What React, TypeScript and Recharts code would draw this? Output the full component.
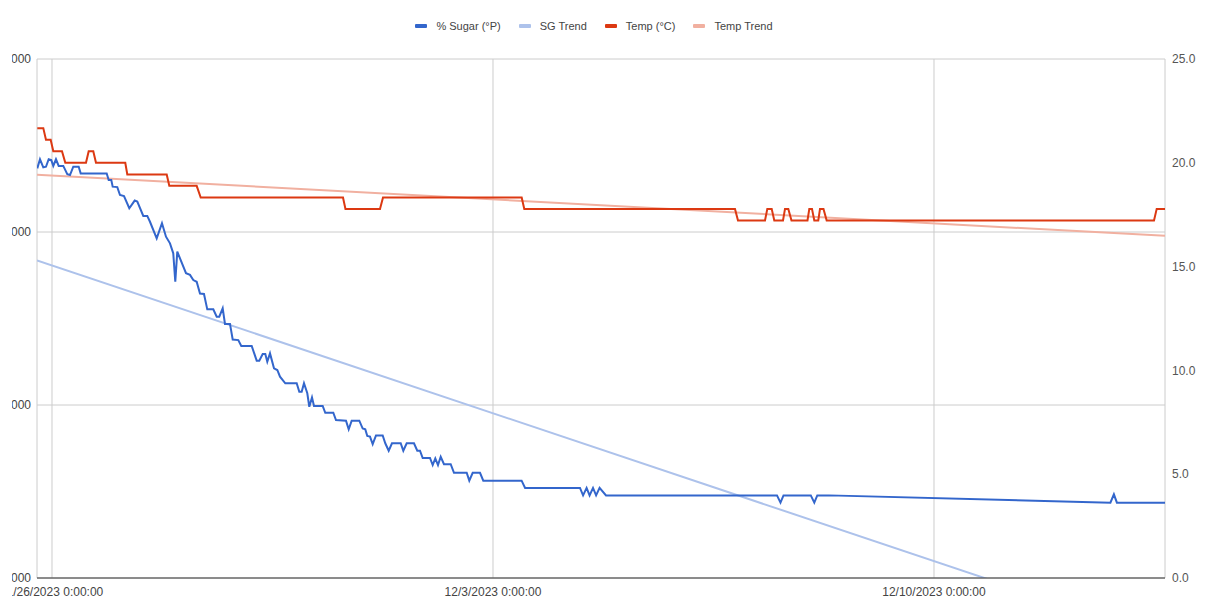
import React from "react";
import {
  LineChart,
  Line,
  XAxis,
  YAxis,
  CartesianGrid,
  Legend,
} from "recharts";

// ---- data (x = hours since 11/26/2023 0:00) ----
const X_MIN = -5.71;
const X_MAX = 424;
const X_TICKS = [0, 168, 336];
const X_TICK_LABELS = ["11/26/2023 0:00:00", "12/3/2023 0:00:00", "12/10/2023 0:00:00"];

const LEFT_TICKS = [0.9, 1.0, 1.1, 1.2];
const RIGHT_TICKS = [0, 5, 10, 15, 20, 25];

const sugarHours = [
  -5.6, -4.57, -3.31, -2.29, -1.26, -0.27, 0.5, 1.52, 2.55, 4.3, 5.83, 6.86, 8.11, 10.17, 10.93,
  20.84, 21.6, 22.59, 23.12, 24.88, 25.9, 27.43, 29.45, 31.5, 32.5, 34.78, 36.3, 37.33, 39.89,
  41.9, 43.43, 44.95, 46.2, 46.97, 47.73, 51.05, 52.57, 53.83, 55.12, 56.38, 57.9, 59.16, 61.45,
  62.74, 63.73, 65.03, 65.9, 67.81, 68.84, 70.97, 72.11, 76.08, 77.98, 78.97, 80.27, 81.26, 82.02,
  83.05, 84.57, 85.83, 86.86, 88.88, 93.22, 94.21, 95.12, 96.0, 97.26, 98.02, 99.05, 99.81,
  103.12, 104.11, 107.16, 108.19, 112.0, 113.03, 114.17, 117.07, 118.36, 119.35, 120.11, 121.14,
  122.17, 123.43, 125.98, 126.97, 128.27, 129.52, 132.84, 133.83, 135.12, 137.9, 139.16, 140.19,
  141.22, 144.0, 145.03, 146.02, 147.05, 148.08, 149.33, 151.89, 153.14, 157.98, 158.97, 160.27,
  163.05, 164.3, 178.9, 180.23, 201.14, 202.32, 203.66, 204.8, 206.1, 207.28, 208.61, 211.05,
  276.19, 277.52, 278.67, 289.07, 290.4, 291.54, 296.0, 403.2, 404.53, 405.68, 424.0,
];
const sugarPlato = [
  19.73, 20.17, 19.78, 19.81, 20.17, 20.13, 19.85, 20.17, 19.85, 19.85, 19.45, 19.41, 19.81, 19.81, 19.49,
  19.49, 19.17, 19.17, 18.85, 18.83, 18.45, 18.4, 17.81, 18.18, 18.13, 17.44, 17.44, 17.16, 16.36,
  17.09, 16.44, 16.12, 15.64, 14.27, 15.72, 14.68, 14.6, 14.35, 14.27, 13.7, 13.68, 12.94, 12.94,
  12.59, 12.59, 12.99, 12.24, 12.24, 11.49, 11.46, 11.18, 11.18, 10.47, 10.47, 10.79, 10.79, 10.42,
  10.82, 10.1, 10.02, 9.7, 9.38, 9.38, 8.97, 8.97, 9.38, 8.9, 8.25, 8.7, 8.29,
  8.29, 7.96, 7.96, 7.61, 7.58, 7.16, 7.58, 7.58, 7.2, 7.16, 6.84, 6.81,
  6.45, 6.87, 6.87, 6.49, 6.13, 6.49, 6.49, 6.13, 6.49, 6.49, 6.13, 6.13,
  5.78, 5.78, 5.44, 5.76, 5.44, 5.84, 5.48, 5.48, 5.07, 5.07, 4.69, 5.07,
  5.07, 4.69, 4.69, 4.34, 4.34, 3.98, 4.34, 3.98, 4.34, 3.98, 4.34, 3.98,
  3.98, 3.63, 3.98, 3.98, 3.63, 3.98, 3.98, 3.63, 4.03, 3.63, 3.63,
];

const tempHours = [
  -5.6, -3.31, -2.29, -0.5, 0.5, 3.81, 5.07, 12.95, 13.98, 15.73, 16.76, 27.92, 28.69, 43.7, 44.69,
  55.12, 56.65, 110.86, 111.8, 124.95, 126.1, 178.93, 179.92, 260.19, 261.33, 271.62, 272.5,
  274.17, 275.16, 278.48, 279.24, 280.5, 281.71, 287.81, 288.5, 289.52, 290.4, 291.92, 292.57,
  293.9, 295.12, 419.81, 420.84, 424.0,
];
const tempC = [
  21.67, 21.67, 21.11, 21.11, 20.56, 20.56, 20.0, 20.0, 20.56, 20.56, 20.0, 20.0, 19.44, 19.44, 18.89,
  18.89, 18.33, 18.33, 17.78, 17.78, 18.33, 18.33, 17.78, 17.78, 17.22, 17.22, 17.78,
  17.78, 17.22, 17.22, 17.78, 17.78, 17.22, 17.22, 17.78, 17.78, 17.22, 17.22, 17.78,
  17.78, 17.22, 17.22, 17.78, 17.78,
];

const sgTrendHours = [-5.71, 424];
const sgTrendValues = [1.0836, 0.865];
const tempTrendHours = [-5.71, 424];
const tempTrendValues = [19.43, 16.48];

const SERIES_NAMES = ["% Sugar (°P)", "SG Trend", "Temp (°C)", "Temp Trend"];
const SERIES_COLORS = ["#3366cc", "#adc2eb", "#dc3912", "#f1b0a0"];

const zip = (xs: number[], ys: number[]) => xs.map((h, i) => ({ h, v: ys[i] }));
const sugarData = zip(sugarHours, sugarPlato);
const tempData = zip(tempHours, tempC);
const sgTrendData = zip(sgTrendHours, sgTrendValues);
const tempTrendData = zip(tempTrendHours, tempTrendValues);

const FONT = "Arial, 'Liberation Sans', sans-serif";
const CHART_W = 1246;
const CHART_H = 604;

const LegendContent = () => (
  <div
    style={{
      height: 49,
      boxSizing: "border-box",
      paddingTop: 8,
      paddingRight: 12,
      display: "flex",
      justifyContent: "center",
      alignItems: "flex-start",
      fontFamily: FONT,
      fontSize: 11,
      color: "#444",
      lineHeight: "16px",
    }}
  >
    {SERIES_NAMES.map((name, i) => (
      <div
        key={name}
        style={{ display: "flex", alignItems: "center", marginLeft: i === 0 ? 0 : 18 }}
      >
        <span
          style={{
            display: "inline-block",
            width: 12,
            height: 4,
            background: SERIES_COLORS[i],
            marginRight: 9,
            borderRadius: 1,
          }}
        />
        <span style={{ whiteSpace: "nowrap" }}>{name}</span>
      </div>
    ))}
  </div>
);

export default function App() {
  return (
    <div
      style={{
        position: "absolute",
        left: 12,
        top: 0,
        width: 1211,
        height: 604,
        overflow: "hidden",
        background: "#fff",
      }}
    >
      <div style={{ position: "absolute", left: -35, top: 0 }}>
        <LineChart
          width={CHART_W}
          height={CHART_H}
          margin={{ top: 10, right: 0, bottom: 0, left: 0 }}
        >
          <CartesianGrid stroke="#cccccc" yAxisId="left" />
          <XAxis
            dataKey="h"
            type="number"
            domain={[X_MIN, X_MAX]}
            ticks={X_TICKS}
            interval={0}
            allowDataOverflow
            tickFormatter={(v: number) => X_TICK_LABELS[X_TICKS.indexOf(v)] ?? ""}
            axisLine={{ stroke: "#333" }}
            tickLine={false}
            tickSize={0}
            tickMargin={9}
            height={26}
            tick={{ fill: "#444", fontSize: 12, fontFamily: FONT }}
          />
          <YAxis
            yAxisId="left"
            orientation="left"
            domain={[0.9, 1.2]}
            ticks={LEFT_TICKS}
            interval={0}
            allowDataOverflow
            tickFormatter={(v: number) => v.toFixed(4)}
            width={60}
            axisLine={false}
            tickLine={false}
            tickSize={0}
            tickMargin={6}
            tick={{ fill: "#444", fontSize: 12, fontFamily: FONT }}
          />
          <YAxis
            yAxisId="right"
            orientation="right"
            domain={[0, 25]}
            ticks={RIGHT_TICKS}
            interval={0}
            allowDataOverflow
            tickFormatter={(v: number) => v.toFixed(1)}
            width={58}
            axisLine={false}
            tickLine={false}
            tickSize={0}
            tickMargin={7}
            tick={{ fill: "#555", fontSize: 12, fontFamily: FONT }}
          />
          <Legend
            verticalAlign="top"
            align="center"
            wrapperStyle={{ top: 10, left: 0, width: CHART_W, height: 49 }}
            content={() => <LegendContent />}
          />
          <Line
            yAxisId="left"
            data={sgTrendData}
            dataKey="v"
            name={SERIES_NAMES[1]}
            type="linear"
            stroke={SERIES_COLORS[1]}
            strokeWidth={2}
            dot={false}
            activeDot={false}
            isAnimationActive={false}
          />
          <Line
            yAxisId="right"
            data={tempTrendData}
            dataKey="v"
            name={SERIES_NAMES[3]}
            type="linear"
            stroke={SERIES_COLORS[3]}
            strokeWidth={2}
            dot={false}
            activeDot={false}
            isAnimationActive={false}
          />
          <Line
            yAxisId="right"
            data={sugarData}
            dataKey="v"
            name={SERIES_NAMES[0]}
            type="linear"
            stroke={SERIES_COLORS[0]}
            strokeWidth={2}
            dot={false}
            activeDot={false}
            isAnimationActive={false}
          />
          <Line
            yAxisId="right"
            data={tempData}
            dataKey="v"
            name={SERIES_NAMES[2]}
            type="linear"
            stroke={SERIES_COLORS[2]}
            strokeWidth={2}
            dot={false}
            activeDot={false}
            isAnimationActive={false}
          />
        </LineChart>
      </div>
    </div>
  );
}
